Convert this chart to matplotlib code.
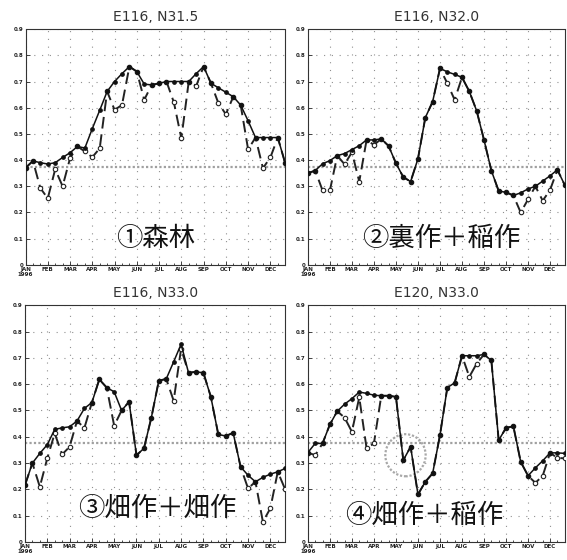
import numpy as np
import matplotlib
matplotlib.use("Agg")
import matplotlib.pyplot as plt
from matplotlib.patches import Ellipse

# ========= data: 36 dekads (10-day composites), 1996 =========
months = ["JAN\n1996", "FEB", "MAR", "APR", "MAY", "JUN",
          "JUL", "AUG", "SEP", "OCT", "NOV", "DEC"]
titles = ["E116, N31.5", "E116, N32.0", "E116, N33.0", "E120, N33.0"]
labels = ["①森林", "②裏作＋稲作", "③畑作＋畑作", "④畑作＋稲作"]
ref_level = 0.375

# solid line (filled dots)
solid1 = [0.37, 0.397, 0.39, 0.385, 0.39, 0.41, 0.428, 0.452, 0.446, 0.52, 0.59, 0.662,
          0.70, 0.73, 0.757, 0.738, 0.69, 0.687, 0.693, 0.70, 0.70, 0.70, 0.70, 0.73,
          0.757, 0.693, 0.676, 0.659, 0.642, 0.61, 0.55, 0.486, 0.486, 0.486, 0.486, 0.388]
solid2 = [0.35, 0.36, 0.386, 0.398, 0.417, 0.425, 0.44, 0.455, 0.477, 0.477, 0.481, 0.454,
          0.388, 0.335, 0.318, 0.405, 0.562, 0.623, 0.75, 0.737, 0.727, 0.716, 0.662, 0.588,
          0.477, 0.36, 0.282, 0.277, 0.265, 0.275, 0.29, 0.30, 0.32, 0.34, 0.363, 0.305]
solid3 = [0.216, 0.30, 0.337, 0.37, 0.428, 0.434, 0.438, 0.46, 0.508, 0.53, 0.618, 0.587,
          0.571, 0.50, 0.533, 0.33, 0.356, 0.473, 0.613, 0.62, 0.685, 0.752, 0.643, 0.647,
          0.643, 0.552, 0.409, 0.403, 0.415, 0.286, 0.254, 0.229, 0.246, 0.258, 0.267, 0.28]
solid4 = [0.34, 0.375, 0.375, 0.447, 0.497, 0.524, 0.545, 0.57, 0.565, 0.558, 0.556, 0.556,
          0.552, 0.311, 0.362, 0.181, 0.229, 0.261, 0.406, 0.587, 0.605, 0.708, 0.708, 0.708,
          0.713, 0.69, 0.387, 0.434, 0.44, 0.305, 0.252, 0.282, 0.309, 0.339, 0.339, 0.337]

# dashed line (open circles)
dash1 = [0.37, 0.397, 0.293, 0.254, 0.365, 0.30, 0.407, 0.452, 0.433, 0.411, 0.445, 0.662,
         0.592, 0.61, 0.757, 0.738, 0.63, 0.687, 0.693, 0.70, 0.62, 0.483, 0.70, 0.683,
         0.757, 0.693, 0.617, 0.575, 0.642, 0.61, 0.441, 0.486, 0.369, 0.41, 0.486, 0.388]
dash2 = [0.35, 0.36, 0.284, 0.284, 0.417, 0.384, 0.43, 0.318, 0.477, 0.458, 0.481, 0.454,
         0.388, 0.335, 0.318, 0.405, 0.562, 0.623, 0.75, 0.693, 0.63, 0.716, 0.662, 0.588,
         0.477, 0.36, 0.282, 0.277, 0.265, 0.20, 0.25, 0.30, 0.245, 0.286, 0.363, 0.305]
dash3 = [0.216, 0.30, 0.21, 0.318, 0.413, 0.333, 0.362, 0.46, 0.434, 0.53, 0.618, 0.587,
         0.442, 0.50, 0.533, 0.33, 0.356, 0.473, 0.613, 0.62, 0.537, 0.735, 0.643, 0.647,
         0.643, 0.552, 0.409, 0.403, 0.415, 0.286, 0.204, 0.229, 0.077, 0.128, 0.267, 0.2]
dash4 = [0.34, 0.33, 0.375, 0.447, 0.497, 0.473, 0.419, 0.55, 0.356, 0.375, 0.556, 0.556,
         0.552, 0.311, 0.362, 0.181, 0.229, 0.261, 0.406, 0.587, 0.605, 0.708, 0.628, 0.678,
         0.713, 0.69, 0.387, 0.434, 0.44, 0.305, 0.252, 0.225, 0.252, 0.339, 0.32, 0.318]

solids = [solid1, solid2, solid3, solid4]
dashes = [dash1, dash2, dash3, dash4]
label_pos = [(17.5, 0.10), (18.2, 0.10), (17.8, 0.13), (15.8, 0.10)]


def main():
    plt.rcParams.update({
        "font.family": ["DejaVu Sans"],
        "axes.linewidth": 0.8,
        "xtick.labelsize": 4,
        "ytick.labelsize": 4,
    })
    cjk = ["Noto Sans CJK JP", "DejaVu Sans"]

    fig = plt.figure(figsize=(5.67, 5.6), dpi=100)
    # [left, bottom, width, height]
    rects = [
        [0.045, 0.527, 0.458, 0.421],
        [0.543, 0.527, 0.453, 0.421],
        [0.044, 0.032, 0.459, 0.423],
        [0.543, 0.032, 0.453, 0.423],
    ]

    for k in range(4):
        ax = fig.add_axes(rects[k])
        x = np.arange(len(solids[k]))

        ax.axhline(ref_level, color="#a0a0a0", linestyle=(0, (1, 1)), linewidth=1.6, zorder=1)
        ax.plot(x, dashes[k], color="#222222", linestyle=(0, (6, 3)), linewidth=1.4,
                marker="o", markersize=3.2, markerfacecolor="white",
                markeredgecolor="#222222", markeredgewidth=0.8, zorder=3)
        ax.plot(x, solids[k], color="#111111", linestyle="-", linewidth=1.1,
                marker="o", markersize=2.4, markerfacecolor="#111111",
                markeredgecolor="#111111", zorder=4)

        ax.set_xlim(0, 35)
        ax.set_ylim(0, 0.9)
        ax.set_xticks(np.arange(0, 36, 3))
        ax.set_xticks(np.arange(0, 36, 1), minor=True)
        ax.set_xticklabels(months, fontweight="bold", linespacing=0.9)
        ax.set_yticks(np.arange(0, 0.95, 0.1))
        ax.set_yticklabels(["0"] + [f"{v:.1f}" for v in np.arange(0.1, 0.95, 0.1)],
                           fontweight="bold")
        ax.tick_params(axis="both", which="major", direction="in", length=3,
                       width=0.6, pad=1.5, colors="#222222")
        ax.tick_params(axis="x", which="minor", direction="in", length=1.5, width=0.5)
        ax.grid(True, which="major", color="#909090", linestyle=(0, (1, 6)), linewidth=0.8)
        for sp in ax.spines.values():
            sp.set_color("#333333")
            sp.set_linestyle((0, (2, 1)))

        ax.set_title(titles[k], fontsize=10, color="#333333", pad=6)
        lx, ly = label_pos[k]
        ax.text(lx, ly, labels[k], family=cjk, fontsize=19, ha="center", va="center",
                color="#111111", zorder=5)

        if k == 3:
            ax.add_patch(Ellipse((13.3, 0.33), 5.5, 0.16, fill=False, edgecolor="#a8a8a8",
                                 linestyle=(0, (1, 0.8)), linewidth=1.6, zorder=2))

    fig.savefig("out.png", dpi=100)
    plt.close(fig)


if __name__ == "__main__":
    main()
